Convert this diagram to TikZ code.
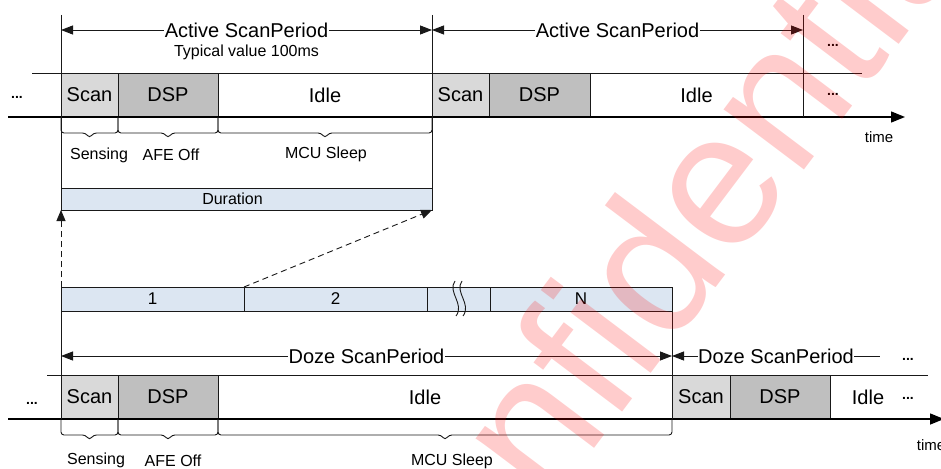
\documentclass[tikz,border=0pt]{standalone}
\usepackage{fontspec}
\setmainfont{Liberation Sans}
\usetikzlibrary{arrows.meta, calc, positioning}

\definecolor{scangray}{RGB}{217,217,217}
\definecolor{dspgray}{RGB}{191,191,191}
\definecolor{barblue}{RGB}{220,230,242}

\tikzset{
	rule/.style={line width=0.9pt, draw=black!90},
	seg/.style={rule, minimum height=44pt, inner sep=0pt, outer sep=0pt, font=\fontsize{20}{24}\selectfont},
	scanseg/.style={seg, fill=scangray, minimum width=57pt},
	dspseg/.style={seg, fill=dspgray, minimum width=100pt},
	idleseg/.style={seg, minimum width=#1},
	barseg/.style={rule, fill=barblue, minimum height=24pt, minimum width=#1, inner sep=0pt, outer sep=0pt, font=\fontsize{17}{20}\selectfont},
	period/.style={rule, {Triangle[length=12pt,width=9pt]}-{Triangle[length=12pt,width=9pt]}},
	axis/.style={-{Triangle[length=14pt,width=11pt]}, line width=1.4pt},
	lbl/.style={font=\fontsize{16}{19}\selectfont},
	dots/.style={font=\fontsize{14}{16}\selectfont\bfseries},
	link/.style={rule, dash pattern=on 6pt off 4pt, -{Triangle[length=11pt,width=9pt]}},
	bkt/.style={to path={let \p1=(\tikztostart), \p2=(\tikztotarget) in
		(\p1) -- (\x1,\y1-16pt) -- ({0.5*\x1+0.5*\x2-4pt},\y1-16pt) -- ({0.5*\x1+0.5*\x2},\y1-21pt)
		-- ({0.5*\x1+0.5*\x2+4pt},\y1-16pt) -- (\x2,\y1-16pt) -- (\p2)}},
}

\begin{document}
\begin{tikzpicture}[x=1pt, y=-1pt]
	\useasboundingbox (0,0) rectangle (941,468);

	% active scan row
	\node[scanseg] (as1) at (89.5,95) {Scan};
	\node[dspseg, right=0pt of as1] (ad1) {DSP};
	\node[idleseg=214pt, right=0pt of ad1] (ai1) {Idle};
	\node[scanseg, right=0pt of ai1] (as2) {Scan};
	\node[dspseg, minimum width=101pt, right=0pt of as2] (ad2) {DSP};
	\node[idleseg=213pt, right=0pt of ad2] (ai2) {Idle};
	\draw[rule] (32,73) -- (862,73);
	\draw[axis] (8,117) -- (905,117);
	\node[lbl, font=\fontsize{15}{18}\selectfont] (time1) at (879,137) {time};
	\node[dots] (d1) at (17,97) {...};
	\node[dots] (d2) at (833,45) {...};
	\node[dots] (d3) at (833,94) {...};

	% duration
	\node[barseg=371pt, minimum height=22pt] (dur) at (246.5,199) {};
	\node[lbl] (durlbl) at (232.5,199) {Duration};
	\draw[rule] (61,15) -- (dur.south west);
	\draw[rule] (432,15) -- (dur.south east);
	\draw[rule] (803,15) -- (ai2.south east);

	\draw[period] (61,30) -- node[fill=white, inner sep=0.5pt, font=\fontsize{20}{24}\selectfont] (ap1) {Active ScanPeriod} (432,30);
	\draw[period] (432,30) -- node[fill=white, inner sep=0.5pt, font=\fontsize{20}{24}\selectfont] (ap2) {Active ScanPeriod} (803,30);
	\node[lbl] (typ) at (246.5,52) {Typical value 100ms};

	\draw[rule, rounded corners=3pt] (as1.south west) to[bkt] (as1.south east);
	\draw[rule, rounded corners=3pt] (ad1.south west) to[bkt] (ad1.south east);
	\draw[rule, rounded corners=3pt] (ai1.south west) to[bkt] (ai1.south east);
	\node[lbl] (sen1) at (99,155) {Sensing};
	\node[lbl] (afe1) at (171,155) {AFE Off};
	\node[lbl] (mcu1) at (326,154) {MCU Sleep};

	% doze frames
	\node[barseg=183pt] (b1) at (152.5,299) {1};
	\node[barseg=183pt, right=0pt of b1] (b2) {2};
	\node[barseg=63pt, right=0pt of b2] (b3) {};
	\node[barseg=182pt, right=0pt of b3] (bN) {N};
	\draw[rule] (455,281) .. controls (447,292) and (465,304) .. (456,316);
	\draw[rule] (462,281) .. controls (454,292) and (472,304) .. (463,316);

	\draw[link] (b1.north west) -- (dur.south west);
	\draw[link] (b1.north east) -- (dur.south east);

	% doze scan row
	\node[scanseg] (bs1) at (89.5,397) {Scan};
	\node[dspseg, right=0pt of bs1] (bd1) {DSP};
	\node[idleseg=454pt, right=0pt of bd1] (bi1) {};
	\node[font=\fontsize{20}{24}\selectfont] (bidle) at (425,397) {Idle};
	\node[scanseg, minimum width=58pt, right=0pt of bi1] (bs2) {Scan};
	\node[dspseg, right=0pt of bs2] (bd2) {DSP};
	\node[font=\fontsize{20}{24}\selectfont] (bi2) at (868,397) {Idle};
	\draw[rule] (47,375) -- (928,375);
	\draw[axis] (8,419) -- (944,419);
	\node[lbl, font=\fontsize{15}{18}\selectfont] (time2) at (931,445) {time};
	\node[dots] (d4) at (32,403) {...};
	\node[dots] (d5) at (908,359) {...};
	\node[dots] (d6) at (908,398) {...};

	\draw[rule] (b1.north west) -- (bs1.south west);
	\draw[rule] (bN.north east) -- (bi1.south east);

	\draw[period] (61,356) -- node[fill=white, inner sep=0.5pt, font=\fontsize{20}{24}\selectfont] (dp1) {Doze ScanPeriod} (672,356);
	\draw[rule, {Triangle[length=12pt,width=9pt]}-] (672,356) -- node[fill=white, inner sep=0.5pt, font=\fontsize{20}{24}\selectfont] (dp2) {Doze ScanPeriod} (880,356);

	\draw[rule, rounded corners=3pt] (bs1.south west) to[bkt] (bs1.south east);
	\draw[rule, rounded corners=3pt] (bd1.south west) to[bkt] (bd1.south east);
	\draw[rule, rounded corners=3pt] (bi1.south west) to[bkt] (bi1.south east);
	\node[lbl] (sen2) at (96,460) {Sensing};
	\node[lbl] (afe2) at (173,461) {AFE Off};
	\node[lbl] (mcu2) at (452,461) {MCU Sleep};

	% watermark
	\node[rotate=53, text=red, opacity=0.2, font=\fontsize{190}{190}\selectfont] (wm) at (650,262) {Confidential};
\end{tikzpicture}
\end{document}
